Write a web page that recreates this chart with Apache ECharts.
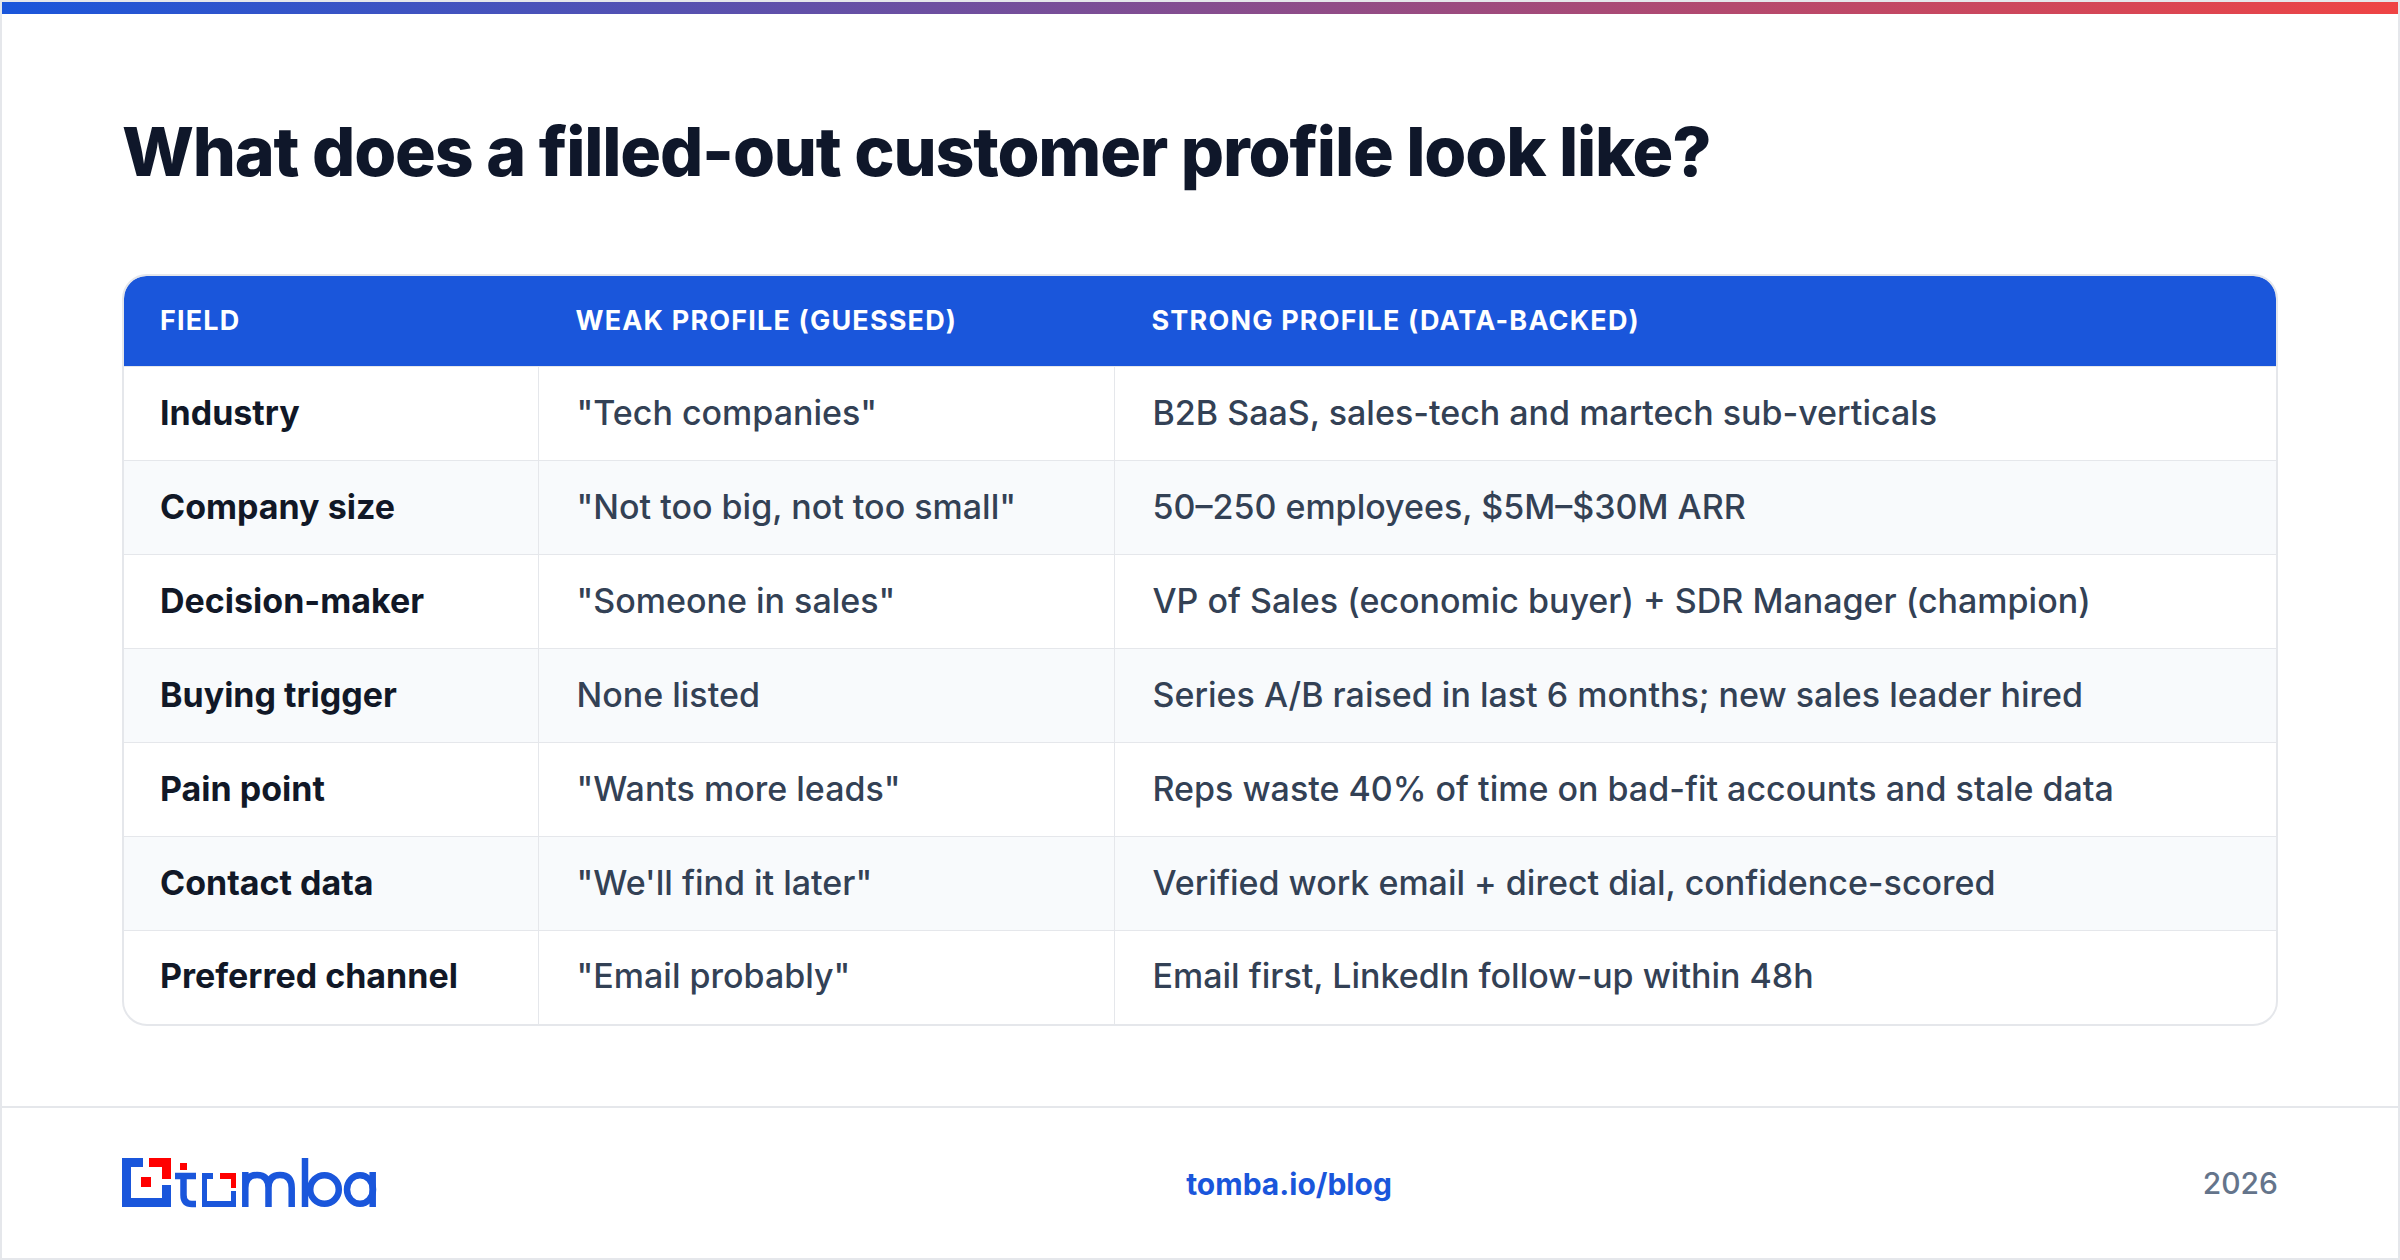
<!DOCTYPE html>
<html>
<head>
<meta charset="utf-8">
<script src="https://cdn.jsdelivr.net/npm/echarts@6/dist/echarts.min.js"></script>
<style>
html,body{margin:0;padding:0;background:#fff}
#main{width:2400px;height:1260px}
/* letter spacing can only be reached through the svg renderer */
#main text[style*="68px"]{letter-spacing:-1.2px}
#main text[style*="27px"]{letter-spacing:1.17px}
</style>
</head>
<body>
<div id="main"></div>
<script type="text/javascript">
// table content
var titleText = 'What does a filled-out customer profile look like?';
var headers = ['FIELD', 'WEAK PROFILE (GUESSED)', 'STRONG PROFILE (DATA-BACKED)'];
var fields = ['Industry', 'Company size', 'Decision-maker', 'Buying trigger', 'Pain point', 'Contact data', 'Preferred channel'];
var weak = ['"Tech companies"', '"Not too big, not too small"', '"Someone in sales"', 'None listed', '"Wants more leads"', '"We\'ll find it later"', '"Email probably"'];
var strong = [
    'B2B SaaS, sales-tech and martech sub-verticals',
    '50\u2013250 employees, $5M\u2013$30M ARR',
    'VP of Sales (economic buyer) + SDR Manager (champion)',
    'Series A/B raised in last 6 months; new sales leader hired',
    'Reps waste 40% of time on bad-fit accounts and stale data',
    'Verified work email + direct dial, confidence-scored',
    'Email first, LinkedIn follow-up within 48h'
];
var footerLink = 'tomba.io/blog';
var footerYear = '2026';

// layout of the table, in axis units (1 unit = 1px)
var colEdges = [0, 415, 991, 2152];
var rowEdges = [0, 91, 185, 279, 373, 467, 561, 655, 748];

var BLUE = '#1a56db', RED = '#ff0000', LINE = '#e5e7eb', FONT = 'Inter';

var cells = [];
for (var r = 0; r <= fields.length; r++) {
    for (var c = 0; c < 3; c++) cells.push([c, r]);
}

function cellText(c, r) {
    if (r === 0) return headers[c];
    return [fields, weak, strong][c][r - 1];
}

function renderCell(params, api) {
    var c = api.value(0), r = api.value(1);
    var a = api.coord([colEdges[c], rowEdges[r]]);
    var b = api.coord([colEdges[c + 1], rowEdges[r + 1]]);
    var fill = r === 0 ? BLUE : (r % 2 === 0 ? '#f8fafc' : '#ffffff');
    var corner = [0, 0, 0, 0];
    if (r === 0 && c === 0) corner = [22, 0, 0, 0];
    if (r === 0 && c === 2) corner = [0, 22, 0, 0];
    if (r === 7 && c === 0) corner = [0, 0, 0, 22];
    if (r === 7 && c === 2) corner = [0, 0, 22, 0];
    var children = [{
        type: 'rect',
        shape: {x: a[0], y: a[1], width: b[0] - a[0], height: b[1] - a[1], r: corner},
        style: {fill: fill}
    }];
    if (r < 7) {
        children.push({type: 'rect', shape: {x: a[0], y: b[1] - 1, width: b[0] - a[0], height: 2}, style: {fill: LINE}});
    }
    if (r > 0 && c < 2) {
        children.push({type: 'rect', shape: {x: b[0] - 1, y: a[1], width: 2, height: b[1] - a[1]}, style: {fill: LINE}});
    }
    var style;
    if (r === 0) {
        style = {fill: '#ffffff', font: '700 27px ' + FONT};
    } else if (c === 0) {
        style = {fill: '#111827', font: '700 34px ' + FONT};
    } else {
        style = {fill: '#334155', font: '500 34px ' + FONT};
    }
    style.text = cellText(c, r);
    style.x = a[0] + (c === 0 ? 36 : (r === 0 ? 36.5 : 37.5));
    style.y = (a[1] + b[1]) / 2 - (r === 0 ? 1 : 2);
    style.verticalAlign = 'middle';
    style.align = 'left';
    children.push({type: 'text', style: style});
    return {type: 'group', children: children};
}

// logo pieces, drawn in page pixels
function logoPath(d, fill, stroke) {
    return {type: 'path', shape: {pathData: d}, style: stroke ? {fill: 'none', stroke: stroke, lineWidth: 6.5} : {fill: fill}};
}
function renderLogo() {
    return {type: 'group', children: [
        logoPath('M143 1158H122V1207H171V1185H162V1198H131V1167H143Z', BLUE),
        logoPath('M149 1158H171V1179H162V1167H149Z', RED),
        logoPath('M141 1177H151V1187H141Z', RED),
        logoPath('M180 1163H187V1170H180Z', RED),
        logoPath('M175 1176H196M183.5 1173V1195Q183.5 1204 192 1204H196', null, BLUE),
        logoPath('M213 1173H202V1207H236V1191H231V1201H207V1179H213Z', BLUE),
        logoPath('M220 1173H236V1188H231V1179H220Z', RED),
        logoPath('M245.3 1207V1172M245.3 1188Q245.3 1175 257 1175Q268.5 1175 268.5 1188V1207M268.5 1188Q268.5 1175 280 1175Q291.7 1175 291.7 1188V1207', null, BLUE),
        logoPath('M305 1158V1207', null, BLUE),
        logoPath('M310.2 1189.5A14.3 14.3 0 1 0 338.8 1189.5A14.3 14.3 0 1 0 310.2 1189.5Z', null, BLUE),
        logoPath('M347 1189.5A13 14.3 0 1 0 373 1189.5A13 14.3 0 1 0 347 1189.5Z', null, BLUE),
        logoPath('M372.7 1172V1207', null, BLUE)
    ]};
}

var myChart = echarts.init(document.getElementById('main'), null, {width: 2400, height: 1260, renderer: 'svg'});

var option = {
    animation: false,
    backgroundColor: '#ffffff',
    grid: {left: 124, top: 276, width: 2152, height: 748},
    xAxis: {type: 'value', min: 0, max: 2152, show: false},
    yAxis: {type: 'value', min: 0, max: 748, inverse: true, show: false},
    series: [{
        type: 'custom',
        coordinateSystem: 'cartesian2d',
        clip: false,
        data: cells,
        encode: {x: 0, y: 1},
        renderItem: renderCell
    }, {
        type: 'custom',
        coordinateSystem: 'none',
        data: [0],
        silent: true,
        renderItem: renderLogo
    }],
    graphic: {elements: [
        // page frame and top strip
        {type: 'rect', z: 1, shape: {x: 1, y: 1, width: 2398, height: 1258}, style: {fill: 'none', stroke: LINE, lineWidth: 2}},
        {type: 'rect', z: 2, shape: {x: 2, y: 2, width: 2396, height: 12}, style: {
            fill: new echarts.graphic.LinearGradient(0, 0, 1, 0, [{offset: 0, color: BLUE}, {offset: 1, color: '#ef4444'}])
        }},
        {type: 'text', z: 5, style: {text: titleText, x: 122, y: 151, font: '800 68px ' + FONT, fill: '#0f172a', verticalAlign: 'middle'}},
        // table outline on top of the cells
        {type: 'rect', z: 5, shape: {x: 123, y: 275, width: 2154, height: 750, r: 24}, style: {fill: 'none', stroke: LINE, lineWidth: 2}},
        // footer
        {type: 'rect', z: 1, shape: {x: 2, y: 1106, width: 2396, height: 2}, style: {fill: LINE}},
        {type: 'text', z: 5, style: {text: footerLink, x: 1289, y: 1184, font: '700 30px ' + FONT, fill: BLUE, align: 'center', verticalAlign: 'middle'}},
        {type: 'text', z: 5, style: {text: footerYear, x: 2278, y: 1183, font: '500 30px ' + FONT, fill: '#64748b', align: 'right', verticalAlign: 'middle'}}
    ]}
};
myChart.setOption(option);
</script>
</body>
</html>
